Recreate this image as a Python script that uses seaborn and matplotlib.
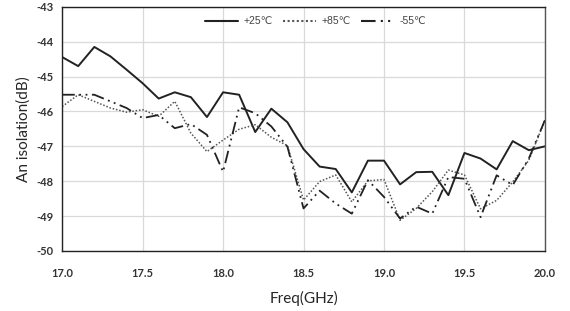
import pandas as pd
import matplotlib
matplotlib.use("Agg")
import matplotlib.pyplot as plt
import seaborn as sns

freq = [17.0, 17.1, 17.2, 17.3, 17.4, 17.5, 17.6, 17.7, 17.8, 17.9,
        18.0, 18.1, 18.2, 18.3, 18.4, 18.5, 18.6, 18.7, 18.8, 18.9,
        19.0, 19.1, 19.2, 19.3, 19.4, 19.5, 19.6, 19.7, 19.8, 19.9, 20.0]

iso_p25 = [-44.44, -44.70, -44.15, -44.42, -44.80, -45.19, -45.63, -45.45, -45.59, -46.16,
           -45.45, -45.52, -46.59, -45.92, -46.31, -47.08, -47.58, -47.65, -48.32, -47.41,
           -47.41, -48.09, -47.74, -47.73, -48.40, -47.19, -47.35, -47.66, -46.85, -47.11, -47.00]

iso_p85 = [-45.86, -45.52, -45.71, -45.90, -46.02, -45.95, -46.14, -45.71, -46.62, -47.15,
           -46.82, -46.51, -46.38, -46.74, -46.98, -48.54, -48.01, -47.82, -48.59, -47.99,
           -47.95, -49.12, -48.78, -48.30, -47.68, -47.82, -48.79, -48.55, -48.02, -47.40, -46.25]

iso_m55 = [-45.52, -45.52, -45.52, -45.71, -45.90, -46.19, -46.10, -46.48, -46.36, -46.67,
           -47.73, -45.88, -46.05, -46.43, -47.01, -48.78, -48.27, -48.64, -48.93, -47.97,
           -48.45, -49.07, -48.73, -48.93, -47.88, -47.93, -49.03, -47.83, -48.11, -47.35, -46.25]

labels = ["+25℃", "+85℃", "-55℃"]
x_ticks = [17.0, 17.5, 18.0, 18.5, 19.0, 19.5, 20.0]
y_ticks = [-43, -44, -45, -46, -47, -48, -49, -50]

df = pd.DataFrame({
    "freq": freq * 3,
    "iso": iso_p25 + iso_p85 + iso_m55,
    "temp": [labels[0]] * len(freq) + [labels[1]] * len(freq) + [labels[2]] * len(freq),
})

sns.set_style("whitegrid")
plt.rcParams["font.family"] = ["Lato", "DejaVu Sans"]

fig = plt.figure(figsize=(5.7, 3.11), dpi=100)
ax = fig.add_axes([0.109, 0.193, 0.847, 0.785])

sns.lineplot(
    data=df, x="freq", y="iso", hue="temp", style="temp",
    palette=["#222222", "#555555", "#222222"],
    dashes={labels[0]: "", labels[1]: (1, 1.2), labels[2]: (7, 2.5, 1, 2.5, 1, 2.5)},
    ax=ax, legend=True,
)
for line, lw in zip(ax.lines, [1.4, 1.1, 1.3]):
    line.set_linewidth(lw)

ax.set_xlim(17.0, 20.0)
ax.set_ylim(-50, -43)
ax.set_xticks(x_ticks)
ax.set_xticklabels([f"{t:.1f}" for t in x_ticks], fontsize=8, color="#333333", fontweight="bold")
ax.set_yticks(y_ticks)
ax.set_yticklabels([str(t) for t in y_ticks], fontsize=8, color="#333333", fontweight="bold")
ax.tick_params(axis="y", length=0, pad=6)
ax.tick_params(axis="x", length=0, pad=12)
ax.grid(True, color="#d9d9d9", linewidth=0.9)

ax.set_xlabel("Freq(GHz)", fontsize=11, labelpad=9)
ax.set_ylabel("An isolation(dB)", fontsize=11, labelpad=4)

for side in ["left", "bottom", "top"]:
    ax.spines[side].set_color("#222222")
    ax.spines[side].set_linewidth(1.0)
ax.spines["right"].set_color("#555555")
ax.spines["right"].set_linewidth(1.0)

handles, lbls = ax.get_legend_handles_labels()
leg = ax.legend(handles, lbls, loc="upper center", bbox_to_anchor=(0.525, 1.0), ncol=3,
                frameon=False, handlelength=3.2, columnspacing=1.0,
                handletextpad=0.5, prop={"family": ["Liberation Sans", "DejaVu Sans"], "size": 7.5})
for t in leg.get_texts():
    t.set_color("#444444")

fig.savefig("out.png", dpi=100)
